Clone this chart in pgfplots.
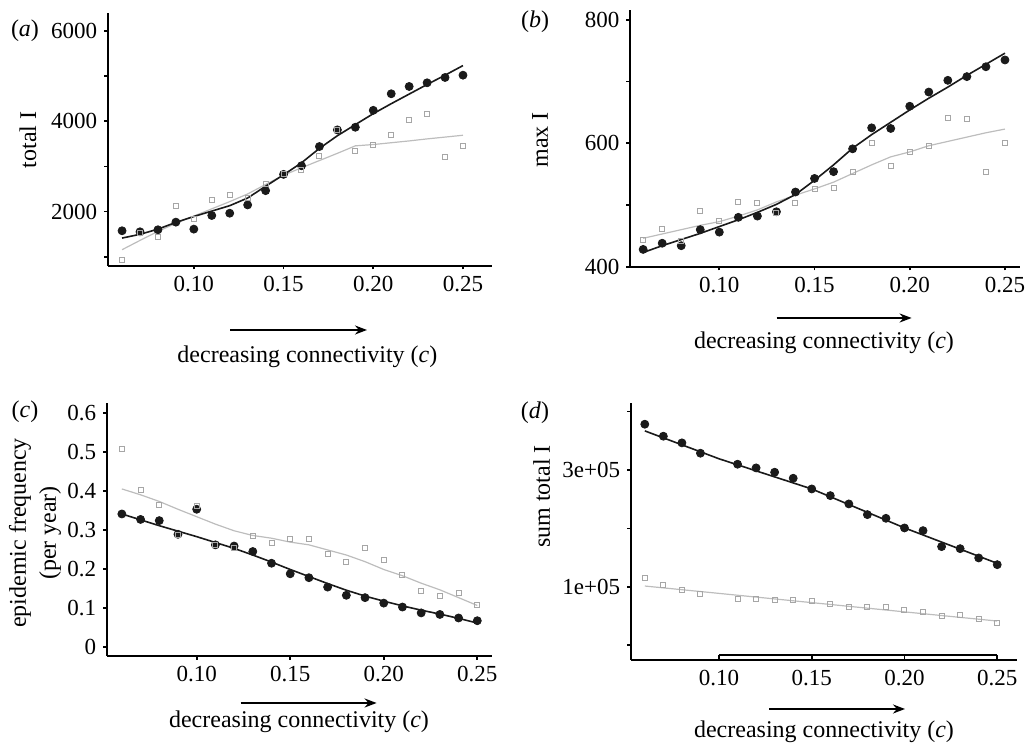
\documentclass[border=0pt]{standalone}
\usepackage{fontspec}
\setmainfont{Liberation Serif}
\usepackage{pgfplots}
\pgfplotsset{compat=1.18}
\usetikzlibrary{arrows.meta}

\definecolor{dotblack}{HTML}{1A1A1A}
\definecolor{sqgrey}{HTML}{A6A6A6}
\definecolor{lngrey}{HTML}{BDBDBD}

\pgfplotsset{
  rpanel/.style={
    scale only axis,
    axis x line*=bottom,
    axis y line*=left,
    axis line style={line width=1.1pt,-},
    tick align=outside,
    major tick length=1.8pt,
    tick style={line width=0.9pt,black},
    xtick={0.10,0.15,0.20,0.25},
    xticklabels={0.10,0.15,0.20,0.25},
    scaled ticks=false,
    tick label style={font=\fontsize{11.5}{12}\selectfont},
    clip=false,
  },
  blackpts/.style={only marks,mark=*,mark size=2pt,
    mark options={fill=dotblack,draw=dotblack}},
  greypts/.style={only marks,mark=square,mark size=1.25pt,
    mark options={draw=sqgrey,line width=0.5pt}},
  blackfit/.style={no marks,line width=0.8pt,dotblack},
  greyfit/.style={no marks,line width=0.6pt,lngrey},
}

\begin{document}
\begin{tikzpicture}
\useasboundingbox (0,0) rectangle (513.5pt,373.5pt);

% (a) total I
\begin{axis}[rpanel,
  at={(53.85pt,240.65pt)}, anchor=south west,
  width=192pt, height=126.5pt,
  xmin=0.052, xmax=0.266, ymin=800, ymax=6407,
  ytick={1000,2000,3000,4000,5000,6000},
  yticklabels={,2000,,4000,,6000}]
\addplot[blackpts] coordinates {
 (0.06,1574) (0.07,1551) (0.08,1596) (0.09,1765) (0.10,1610)
 (0.11,1912) (0.12,1963) (0.13,2147) (0.14,2463) (0.15,2824)
 (0.16,3015) (0.17,3441) (0.18,3809) (0.19,3868) (0.20,4243)
 (0.21,4610) (0.22,4772) (0.23,4853) (0.24,4971) (0.25,5022)};
\addplot[greypts] coordinates {
 (0.06,919) (0.07,1522) (0.08,1434) (0.09,2118) (0.10,1831)
 (0.11,2265) (0.12,2360) (0.13,2294) (0.14,2610) (0.15,2824)
 (0.16,2912) (0.17,3235) (0.18,3809) (0.19,3338) (0.20,3485)
 (0.21,3706) (0.22,4037) (0.23,4169) (0.24,3199) (0.25,3456)};
\addplot[greyfit] coordinates {
 (0.06,1154) (0.07,1360) (0.08,1560) (0.09,1740) (0.10,1900)
 (0.11,2060) (0.12,2220) (0.13,2390) (0.14,2600) (0.15,2805)
 (0.16,2970) (0.17,3130) (0.18,3290) (0.19,3456) (0.20,3485)
 (0.21,3525) (0.22,3565) (0.23,3610) (0.24,3650) (0.25,3691)};
\addplot[blackfit] coordinates {
 (0.06,1412) (0.07,1495) (0.08,1610) (0.09,1760) (0.10,1890)
 (0.11,2010) (0.12,2130) (0.13,2300) (0.14,2560) (0.15,2815)
 (0.16,3080) (0.17,3400) (0.18,3680) (0.19,3926) (0.20,4169)
 (0.21,4390) (0.22,4603) (0.23,4816) (0.24,5022) (0.25,5235)};
\end{axis}

% (b) max I
\begin{axis}[rpanel,
  at={(315pt,240.15pt)}, anchor=south west,
  width=195pt, height=128.35pt,
  xmin=0.0531, xmax=0.2579, ymin=400, ymax=816,
  ytick={400,500,600,700,800},
  yticklabels={400,,600,,800}]
\addplot[blackpts] coordinates {
 (0.06,428) (0.07,438) (0.08,434) (0.09,460) (0.10,456)
 (0.11,480) (0.12,482) (0.13,489) (0.14,521) (0.15,543)
 (0.16,554) (0.17,591) (0.18,625) (0.19,624) (0.20,660)
 (0.21,683) (0.22,702) (0.23,708) (0.24,724) (0.25,735)};
\addplot[greypts] coordinates {
 (0.06,443) (0.07,461) (0.08,441) (0.09,491) (0.10,474)
 (0.11,505) (0.12,504) (0.13,487) (0.14,503) (0.15,526)
 (0.16,528) (0.17,553) (0.18,600) (0.19,563) (0.20,586)
 (0.21,596) (0.22,641) (0.23,639) (0.24,554) (0.25,600)};
\addplot[greyfit] coordinates {
 (0.06,446) (0.07,453) (0.08,460) (0.09,467) (0.10,473)
 (0.11,482) (0.12,492) (0.13,505) (0.14,516) (0.15,526)
 (0.16,537) (0.17,551) (0.18,565) (0.19,578) (0.20,586)
 (0.21,596) (0.22,603) (0.23,610) (0.24,617) (0.25,623)};
\addplot[blackfit] coordinates {
 (0.06,423) (0.07,434) (0.08,444) (0.09,454) (0.10,465)
 (0.11,476) (0.12,488) (0.13,501) (0.14,517) (0.15,540)
 (0.16,565) (0.17,592) (0.18,614) (0.19,634) (0.20,654)
 (0.21,673) (0.22,691) (0.23,710) (0.24,728) (0.25,746)};
\end{axis}

% (c) epidemic frequency
\begin{axis}[rpanel,
  at={(53.35pt,45.5pt)}, anchor=south west,
  width=192.5pt, height=126.35pt,
  xmin=0.0519, xmax=0.2577, ymin=-0.0222, ymax=0.624,
  ytick={0,0.1,0.2,0.3,0.4,0.5,0.6},
  yticklabels={0,0.1,0.2,0.3,0.4,0.5,0.6}]
\addplot[blackpts] coordinates {
 (0.06,0.341) (0.07,0.327) (0.08,0.324) (0.09,0.289) (0.10,0.353)
 (0.11,0.262) (0.12,0.259) (0.13,0.245) (0.14,0.215) (0.15,0.188)
 (0.16,0.178) (0.17,0.154) (0.18,0.133) (0.19,0.127) (0.20,0.113)
 (0.21,0.103) (0.22,0.088) (0.23,0.084) (0.24,0.075) (0.25,0.068)};
\addplot[greypts] coordinates {
 (0.06,0.507) (0.07,0.402) (0.08,0.365) (0.09,0.286) (0.10,0.361)
 (0.11,0.262) (0.12,0.255) (0.13,0.285) (0.14,0.268) (0.15,0.278)
 (0.16,0.278) (0.17,0.238) (0.18,0.219) (0.19,0.255) (0.20,0.223)
 (0.21,0.185) (0.22,0.143) (0.23,0.132) (0.24,0.139) (0.25,0.109)};
\addplot[greyfit] coordinates {
 (0.06,0.405) (0.07,0.390) (0.08,0.373) (0.09,0.353) (0.10,0.334)
 (0.11,0.315) (0.12,0.298) (0.13,0.286) (0.14,0.279) (0.15,0.269)
 (0.16,0.262) (0.17,0.249) (0.18,0.236) (0.19,0.219) (0.20,0.199)
 (0.21,0.183) (0.22,0.164) (0.23,0.147) (0.24,0.127) (0.25,0.107)};
\addplot[blackfit] coordinates {
 (0.06,0.341) (0.07,0.326) (0.08,0.311) (0.09,0.297) (0.10,0.283)
 (0.11,0.268) (0.12,0.253) (0.13,0.236) (0.14,0.218) (0.15,0.199)
 (0.16,0.181) (0.17,0.163) (0.18,0.146) (0.19,0.131) (0.20,0.118)
 (0.21,0.106) (0.22,0.095) (0.23,0.085) (0.24,0.074) (0.25,0.062)};
\end{axis}

% (d) sum total I
\begin{axis}[rpanel,
  at={(315.35pt,43.5pt)}, anchor=south west,
  width=193pt, height=128.35pt,
  xmin=0.0524, xmax=0.2605, ymin=-25000, ymax=414000,
  xtick style={draw=none},
  ytick={0,100000,200000,300000,400000},
  yticklabels={,1e+05,,3e+05,}]
\addplot[blackpts] coordinates {
 (0.06,378200) (0.07,357700) (0.08,346300) (0.09,328600)
 (0.11,309800) (0.12,303500) (0.13,296100) (0.14,285800) (0.15,267500)
 (0.16,256100) (0.17,241900) (0.18,223600) (0.19,217300) (0.20,200800)
 (0.21,196200) (0.22,168900) (0.23,165400) (0.24,149500) (0.25,138000)};
\addplot[greypts] coordinates {
 (0.06,115200) (0.07,102700) (0.08,94700) (0.09,88400)
 (0.11,78700) (0.12,78700) (0.13,77000) (0.14,77000) (0.15,75300)
 (0.16,70200) (0.17,65600) (0.18,65600) (0.19,65600) (0.20,59900)
 (0.21,56500) (0.22,50200) (0.23,51900) (0.24,45600) (0.25,37600)};
\addplot[greyfit] coordinates {
 (0.06,101500) (0.10,88900) (0.15,73100) (0.20,57300) (0.25,41600)};
\addplot[blackfit] coordinates {
 (0.06,366800) (0.10,319100) (0.15,267500) (0.20,200900) (0.25,140300)};
\draw[line width=1pt] (axis cs:0.10,-16600) -- (axis cs:0.25,-16600);
\draw[line width=0.9pt] (axis cs:0.10,-16600) -- ++(0pt,-2pt);
\draw[line width=0.9pt] (axis cs:0.15,-16600) -- ++(0pt,-2pt);
\draw[line width=0.9pt] (axis cs:0.20,-16600) -- ++(0pt,-2pt);
\draw[line width=0.9pt] (axis cs:0.25,-16600) -- ++(0pt,-2pt);
\end{axis}

% panel letters
\node[font=\fontsize{12}{14}\selectfont] at (12.5pt,358pt) {(\textit{a})};
\node[font=\fontsize{12}{14}\selectfont] at (267.5pt,362.5pt) {(\textit{b})};
\node[font=\fontsize{12}{14}\selectfont] at (12.5pt,167.5pt) {(\textit{c})};
\node[font=\fontsize{12}{14}\selectfont] at (267.5pt,167pt) {(\textit{d})};

% y labels
\node[rotate=90,font=\fontsize{12}{14}\selectfont] at (14pt,303.5pt) {total I};
\node[rotate=90,font=\fontsize{12}{14}\selectfont] at (270pt,303.5pt) {max I};
\node[rotate=90,align=center,font=\fontsize{12}{15}\selectfont] at (17.5pt,107pt)
  {epidemic frequency\\(per year)};
\node[rotate=90,font=\fontsize{12}{14}\selectfont] at (270.8pt,125.2pt) {sum total I};

% x labels and arrows
\node[font=\fontsize{12}{14}\selectfont] at (153.7pt,195pt) {decreasing connectivity (\textit{c})};
\node[font=\fontsize{12}{14}\selectfont] at (412pt,202pt) {decreasing connectivity (\textit{c})};
\node[font=\fontsize{12}{14}\selectfont] at (149.5pt,12.7pt) {decreasing connectivity (\textit{c})};
\node[font=\fontsize{12}{14}\selectfont] at (412pt,7.7pt) {decreasing connectivity (\textit{c})};
\draw[line width=1pt,-{Stealth[length=6pt,width=4.5pt]}] (115pt,208.5pt) -- (183.5pt,208.5pt);
\draw[line width=1pt,-{Stealth[length=6pt,width=4.5pt]}] (388.3pt,214.5pt) -- (455.8pt,214.5pt);
\draw[line width=1pt,-{Stealth[length=6pt,width=4.5pt]}] (120.3pt,22pt) -- (188.3pt,22pt);
\draw[line width=1pt,-{Stealth[length=6pt,width=4.5pt]}] (384.5pt,19pt) -- (452.5pt,19pt);
\end{tikzpicture}
\end{document}
